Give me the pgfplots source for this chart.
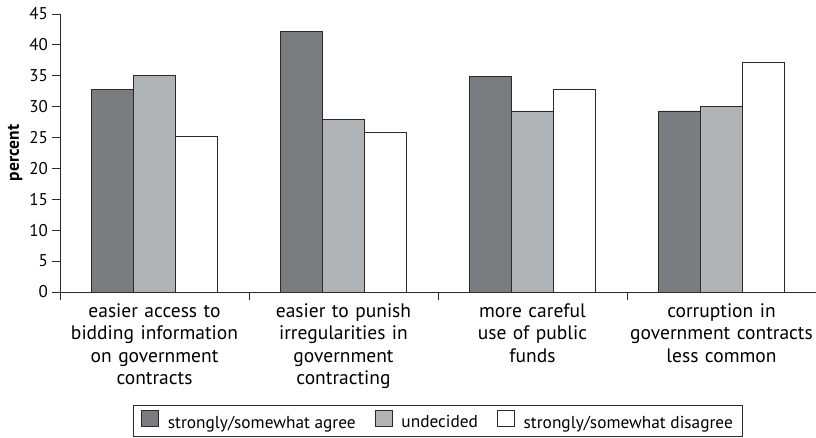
\documentclass[border=0pt]{standalone}
\usepackage{fontspec}
\setmainfont{PT Sans}
\usepackage{pgfplots}
\usepackage{pgfplotstable}
\pgfplotsset{compat=1.18}

\definecolor{agree}{HTML}{7B7C80}
\definecolor{undec}{HTML}{B1B4B7}
\definecolor{edge}{HTML}{2A2A2A}

\pgfplotstableread{
x agree undecided disagree
0 32.8 35.0 25.1
1 42.1 27.9 25.8
2 34.9 29.3 32.8
3 29.3 30.0 37.2
}\datatable

\begin{document}
\begin{tikzpicture}
\begin{axis}[
    scale only axis,
    width=756pt, height=278pt,
    xmin=-0.5, xmax=3.5,
    ymin=0, ymax=45,
    enlargelimits=false,
    axis lines=left,
    axis line style={-, draw=edge, line width=0.9pt},
    ybar=0pt, bar width=42pt,
    xtick={0,1,2,3},
    xticklabels={
        easier access to\\bidding information\\on government\\contracts,
        easier to punish\\irregularities in\\government\\contracting,
        more careful\\use of public\\funds,
        corruption in\\government contracts\\less common},
    minor xtick={-0.5,0.5,1.5,2.5},
    ytick={0,5,...,45},
    tick align=outside,
    major tick length=8pt, minor tick length=8pt,
    tick style={draw=edge, line width=0.9pt},
    major x tick style={draw=none},
    /pgf/number format/assume math mode=true,
    yticklabel style={font=\fontsize{17}{19}\selectfont, inner sep=2pt, xshift=-2pt},
    xticklabel style={font=\fontsize{19.5}{22.5}\selectfont, align=center, text width=188pt, yshift=0pt},
    every axis y label/.style={at={(rel axis cs:0,0.5)}, xshift=-45pt, rotate=90, anchor=center,
        font=\fontsize{17.5}{19}\selectfont\bfseries},
    ylabel={percent},
    legend columns=3,
    legend style={at={(0.5,-0.406)}, anchor=north, draw=edge, line width=0.8pt,
        font=\fontsize{17.3}{19}\selectfont, inner xsep=8pt, inner ysep=5pt,
        /tikz/every odd column/.append style={column sep=7pt},
        /tikz/every even column/.append style={column sep=17pt}},
    legend image code/.code={\draw[#1,/tikz/.cd,line width=0.7pt] (0pt,-4pt) rectangle (17pt,12pt);},
]
\addplot[fill=agree, draw=edge, line width=0.9pt] table[x=x, y=agree] {\datatable};
\addlegendentry{strongly/somewhat agree}
\addplot[fill=undec, draw=edge, line width=0.9pt] table[x=x, y=undecided] {\datatable};
\addlegendentry{undecided}
\addplot[fill=white, draw=edge, line width=0.9pt] table[x=x, y=disagree] {\datatable};
\addlegendentry{strongly/somewhat disagree}
\coordinate (ll) at (rel axis cs:0,0);
\coordinate (ur) at (rel axis cs:1,1);
\end{axis}
\pgfresetboundingbox
\path (ll) ++(-60pt,-146pt) coordinate (a);
\path (ur) ++(0pt,14pt) coordinate (b);
\path[use as bounding box] (a) rectangle (b);
\end{tikzpicture}
\end{document}
